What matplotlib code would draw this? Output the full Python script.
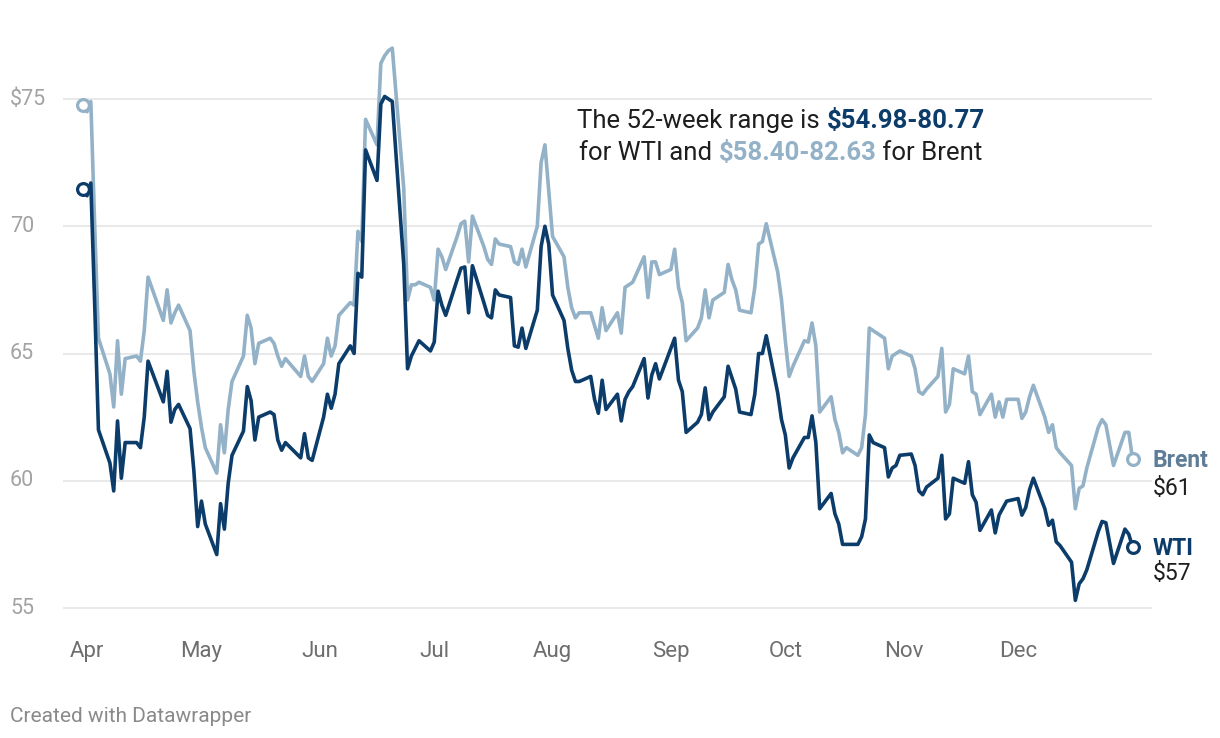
import matplotlib
matplotlib.use('Agg')
import matplotlib.pyplot as plt
import matplotlib.dates as mdates
import matplotlib.transforms as mtransforms
import pandas as pd

plt.rcParams['font.family'] = ['Roboto', 'DejaVu Sans']

# ---------------- data ----------------
brent_dates = [
    '2025-03-31', '2025-04-01', '2025-04-02', '2025-04-03', '2025-04-04', '2025-04-07', '2025-04-08',
    '2025-04-09', '2025-04-10', '2025-04-11', '2025-04-14', '2025-04-15', '2025-04-16', '2025-04-17',
    '2025-04-21', '2025-04-22', '2025-04-23', '2025-04-24', '2025-04-25', '2025-04-28', '2025-04-29',
    '2025-04-30', '2025-05-01', '2025-05-02', '2025-05-05', '2025-05-06', '2025-05-07', '2025-05-08',
    '2025-05-09', '2025-05-12', '2025-05-13', '2025-05-14', '2025-05-15', '2025-05-16', '2025-05-19',
    '2025-05-20', '2025-05-21', '2025-05-22', '2025-05-23', '2025-05-27', '2025-05-28', '2025-05-29',
    '2025-05-30', '2025-06-02', '2025-06-03', '2025-06-04', '2025-06-05', '2025-06-06', '2025-06-09',
    '2025-06-10', '2025-06-11', '2025-06-12', '2025-06-13', '2025-06-16', '2025-06-17', '2025-06-18',
    '2025-06-19', '2025-06-20', '2025-06-23', '2025-06-24', '2025-06-25', '2025-06-26', '2025-06-27',
    '2025-06-30', '2025-07-01', '2025-07-02', '2025-07-03', '2025-07-04', '2025-07-07', '2025-07-08',
    '2025-07-09', '2025-07-10', '2025-07-11', '2025-07-14', '2025-07-15', '2025-07-16', '2025-07-17',
    '2025-07-18', '2025-07-21', '2025-07-22', '2025-07-23', '2025-07-24', '2025-07-25', '2025-07-28',
    '2025-07-29', '2025-07-30', '2025-07-31', '2025-08-01', '2025-08-04', '2025-08-05', '2025-08-06',
    '2025-08-07', '2025-08-08', '2025-08-11', '2025-08-12', '2025-08-13', '2025-08-14', '2025-08-15',
    '2025-08-18', '2025-08-19', '2025-08-20', '2025-08-21', '2025-08-22', '2025-08-25', '2025-08-26',
    '2025-08-27', '2025-08-28', '2025-08-29', '2025-09-01', '2025-09-02', '2025-09-03', '2025-09-04',
    '2025-09-05', '2025-09-08', '2025-09-09', '2025-09-10', '2025-09-11', '2025-09-12', '2025-09-15',
    '2025-09-16', '2025-09-17', '2025-09-18', '2025-09-19', '2025-09-22', '2025-09-23', '2025-09-24',
    '2025-09-25', '2025-09-26', '2025-09-29', '2025-09-30', '2025-10-01', '2025-10-02', '2025-10-03',
    '2025-10-06', '2025-10-07', '2025-10-08', '2025-10-09', '2025-10-10', '2025-10-13', '2025-10-14',
    '2025-10-15', '2025-10-16', '2025-10-17', '2025-10-20', '2025-10-21', '2025-10-22', '2025-10-23',
    '2025-10-24', '2025-10-27', '2025-10-28', '2025-10-29', '2025-10-30', '2025-10-31', '2025-11-03',
    '2025-11-04', '2025-11-05', '2025-11-06', '2025-11-07', '2025-11-10', '2025-11-11', '2025-11-12',
    '2025-11-13', '2025-11-14', '2025-11-17', '2025-11-18', '2025-11-19', '2025-11-20', '2025-11-21',
    '2025-11-24', '2025-11-25', '2025-11-26', '2025-11-27', '2025-11-28', '2025-12-01', '2025-12-02',
    '2025-12-03', '2025-12-04', '2025-12-05', '2025-12-08', '2025-12-09', '2025-12-10', '2025-12-11',
    '2025-12-12', '2025-12-15', '2025-12-16', '2025-12-17', '2025-12-18', '2025-12-19', '2025-12-22',
    '2025-12-23', '2025-12-24', '2025-12-26', '2025-12-29', '2025-12-30', '2025-12-31',
]
brent_values = [
    74.75, 74.5, 74.9, 70.1, 65.6, 64.2, 62.9,
    65.5, 63.4, 64.8, 64.9, 64.7, 65.9, 68.0,
    66.3, 67.5, 66.2, 66.6, 66.9, 65.9, 64.3,
    63.1, 62.1, 61.3, 60.3, 62.2, 61.1, 62.8,
    63.9, 64.9, 66.5, 66.0, 64.6, 65.4, 65.6,
    65.4, 64.9, 64.5, 64.8, 64.1, 64.9, 64.1,
    63.9, 64.6, 65.6, 64.9, 65.3, 66.5, 67.0,
    66.9, 69.8, 69.4, 74.2, 73.2, 76.4, 76.7,
    76.9, 77.0, 71.5, 67.1, 67.7, 67.7, 67.8,
    67.6, 67.1, 69.1, 68.8, 68.3, 69.6, 70.1,
    70.2, 68.6, 70.4, 69.2, 68.7, 68.5, 69.5,
    69.3, 69.2, 68.6, 68.5, 69.1, 68.4, 70.0,
    72.5, 73.2, 71.4, 69.6, 68.8, 67.6, 66.8,
    66.4, 66.6, 66.6, 66.1, 65.6, 66.8, 65.9,
    66.6, 65.8, 67.6, 67.7, 67.8, 68.8, 67.2,
    68.6, 68.6, 68.1, 68.3, 69.1, 67.6, 67.0,
    65.5, 66.0, 66.4, 67.5, 66.4, 67.1, 67.4,
    68.5, 67.9, 67.5, 66.7, 66.6, 67.6, 69.3,
    69.4, 70.1, 68.2, 67.1, 65.5, 64.1, 64.5,
    65.5, 65.45, 66.2, 65.3, 62.7, 63.3, 62.4,
    61.9, 61.1, 61.3, 61.0, 61.3, 62.6, 66.0,
    65.9, 65.6, 64.4, 64.9, 65.0, 65.1, 64.9,
    64.4, 63.5, 63.4, 63.6, 64.1, 65.2, 62.7,
    63.0, 64.4, 64.2, 64.9, 63.5, 63.4, 62.6,
    63.4, 62.5, 63.1, 62.5, 63.2, 63.2, 62.45,
    62.7, 63.3, 63.75, 62.5, 61.9, 62.2, 61.3,
    61.1, 60.6, 58.9, 59.7, 59.8, 60.5, 62.1,
    62.4, 62.2, 60.6, 61.9, 61.9, 60.85,
]

wti_dates = [
    '2025-03-31', '2025-04-01', '2025-04-02', '2025-04-03', '2025-04-04', '2025-04-07', '2025-04-08',
    '2025-04-09', '2025-04-10', '2025-04-11', '2025-04-14', '2025-04-15', '2025-04-16', '2025-04-17',
    '2025-04-21', '2025-04-22', '2025-04-23', '2025-04-24', '2025-04-25', '2025-04-28', '2025-04-29',
    '2025-04-30', '2025-05-01', '2025-05-02', '2025-05-05', '2025-05-06', '2025-05-07', '2025-05-08',
    '2025-05-09', '2025-05-12', '2025-05-13', '2025-05-14', '2025-05-15', '2025-05-16', '2025-05-19',
    '2025-05-20', '2025-05-21', '2025-05-22', '2025-05-23', '2025-05-27', '2025-05-28', '2025-05-29',
    '2025-05-30', '2025-06-02', '2025-06-03', '2025-06-04', '2025-06-05', '2025-06-06', '2025-06-09',
    '2025-06-10', '2025-06-11', '2025-06-12', '2025-06-13', '2025-06-16', '2025-06-17', '2025-06-18',
    '2025-06-20', '2025-06-23', '2025-06-24', '2025-06-25', '2025-06-26', '2025-06-27', '2025-06-30',
    '2025-07-01', '2025-07-02', '2025-07-03', '2025-07-04', '2025-07-07', '2025-07-08', '2025-07-09',
    '2025-07-10', '2025-07-11', '2025-07-14', '2025-07-15', '2025-07-16', '2025-07-17', '2025-07-18',
    '2025-07-21', '2025-07-22', '2025-07-23', '2025-07-24', '2025-07-25', '2025-07-28', '2025-07-29',
    '2025-07-30', '2025-07-31', '2025-08-01', '2025-08-04', '2025-08-05', '2025-08-06', '2025-08-07',
    '2025-08-08', '2025-08-11', '2025-08-12', '2025-08-13', '2025-08-14', '2025-08-15', '2025-08-18',
    '2025-08-19', '2025-08-20', '2025-08-21', '2025-08-22', '2025-08-25', '2025-08-26', '2025-08-27',
    '2025-08-28', '2025-08-29', '2025-09-02', '2025-09-03', '2025-09-04', '2025-09-05', '2025-09-08',
    '2025-09-09', '2025-09-10', '2025-09-11', '2025-09-12', '2025-09-15', '2025-09-16', '2025-09-17',
    '2025-09-18', '2025-09-19', '2025-09-22', '2025-09-23', '2025-09-24', '2025-09-25', '2025-09-26',
    '2025-09-29', '2025-09-30', '2025-10-01', '2025-10-02', '2025-10-03', '2025-10-06', '2025-10-07',
    '2025-10-08', '2025-10-09', '2025-10-10', '2025-10-13', '2025-10-14', '2025-10-15', '2025-10-16',
    '2025-10-17', '2025-10-20', '2025-10-21', '2025-10-22', '2025-10-23', '2025-10-24', '2025-10-27',
    '2025-10-28', '2025-10-29', '2025-10-30', '2025-10-31', '2025-11-03', '2025-11-04', '2025-11-05',
    '2025-11-06', '2025-11-07', '2025-11-10', '2025-11-11', '2025-11-12', '2025-11-13', '2025-11-14',
    '2025-11-17', '2025-11-18', '2025-11-19', '2025-11-20', '2025-11-21', '2025-11-24', '2025-11-25',
    '2025-11-26', '2025-11-28', '2025-12-01', '2025-12-02', '2025-12-03', '2025-12-04', '2025-12-05',
    '2025-12-08', '2025-12-09', '2025-12-10', '2025-12-11', '2025-12-12', '2025-12-15', '2025-12-16',
    '2025-12-17', '2025-12-18', '2025-12-19', '2025-12-22', '2025-12-23', '2025-12-24', '2025-12-26',
    '2025-12-29', '2025-12-30', '2025-12-31',
]
wti_values = [
    71.47, 71.2, 71.7, 67.0, 62.0, 60.7, 59.6,
    62.35, 60.1, 61.5, 61.5, 61.3, 62.5, 64.7,
    63.1, 64.3, 62.3, 62.8, 63.0, 62.05, 60.4,
    58.2, 59.2, 58.3, 57.1, 59.1, 58.1, 59.9,
    61.0, 61.95, 63.7, 63.15, 61.6, 62.5, 62.7,
    62.6, 61.6, 61.2, 61.5, 60.9, 61.85, 60.9,
    60.8, 62.5, 63.4, 62.85, 63.4, 64.6, 65.3,
    65.0, 68.15, 68.0, 73.0, 71.8, 74.8, 75.1,
    74.9, 68.5, 64.4, 64.9, 65.2, 65.5, 65.1,
    65.45, 67.45, 66.9, 66.5, 67.9, 68.35, 68.4,
    66.6, 68.45, 67.0, 66.5, 66.4, 67.5, 67.3,
    67.2, 65.3, 65.25, 66.0, 65.2, 66.7, 69.2,
    70.0, 69.3, 67.3, 66.3, 65.2, 64.35, 63.9,
    63.9, 64.1, 63.2, 62.65, 63.95, 62.8, 63.4,
    62.35, 63.2, 63.5, 63.7, 64.8, 63.25, 64.15,
    64.6, 64.0, 65.6, 63.95, 63.5, 61.9, 62.3,
    62.6, 63.65, 62.4, 62.7, 63.3, 64.5, 64.05,
    63.6, 62.7, 62.6, 63.4, 65.0, 65.0, 65.7,
    63.45, 62.4, 61.8, 60.5, 60.9, 61.7, 61.7,
    62.55, 61.5, 58.9, 59.5, 58.7, 58.3, 57.5,
    57.5, 57.5, 57.8, 58.5, 61.8, 61.5, 61.3,
    60.15, 60.5, 60.6, 61.0, 61.05, 60.6, 59.6,
    59.45, 59.75, 60.1, 61.0, 58.5, 58.7, 60.1,
    59.9, 60.75, 59.45, 59.15, 58.05, 58.85, 57.95,
    58.65, 59.2, 59.3, 58.65, 58.95, 59.65, 60.1,
    58.9, 58.25, 58.45, 57.6, 57.45, 56.8, 55.3,
    55.95, 56.15, 56.5, 58.0, 58.4, 58.35, 56.75,
    58.1, 57.9, 57.4,
]

month_starts = ['2025-04-01', '2025-05-01', '2025-06-01', '2025-07-01', '2025-08-01',
                '2025-09-01', '2025-10-01', '2025-11-01', '2025-12-01']
month_labels = ['Apr', 'May', 'Jun', 'Jul', 'Aug', 'Sep', 'Oct', 'Nov', 'Dec']
y_ticks = [55, 60, 65, 70, 75]
y_tick_labels = ['55', '60', '65', '70', '$75']
series_names = ['Brent', 'WTI']

# ---------------- style ----------------
WTI_COLOR = '#0b3c6a'
BRENT_COLOR = '#93b1c7'
BRENT_LABEL_COLOR = '#5f7d96'
TEXT_COLOR = '#1e1e1e'
GRID_COLOR = '#e3e3e3'

W, H = 1220, 738
fig = plt.figure(figsize=(W / 100, H / 100), dpi=100)
fig.patch.set_facecolor('white')

# layout in pixels
ax_l, ax_r, ax_t, ax_b = 63, 1152, 30, 640
ax = fig.add_axes([ax_l / W, 1 - ax_b / H, (ax_r - ax_l) / W, (ax_b - ax_t) / H])

px_per_day = 3.816
apr1_px = 87
apr1 = mdates.date2num(pd.Timestamp('2025-04-01'))
ax.set_xlim(apr1 - (apr1_px - ax_l) / px_per_day, apr1 + (ax_r - apr1_px) / px_per_day)
px_per_unit = 25.45
y55_px = 608
ax.set_ylim(55 - (ax_b - y55_px) / px_per_unit, 55 + (y55_px - ax_t) / px_per_unit)

for s in ax.spines.values():
    s.set_visible(False)
ax.set_xticks([])
ax.set_yticks([])

for v in y_ticks:
    ax.axhline(v, color=GRID_COLOR, lw=1.1, zorder=1)

ylab_tr = mtransforms.blended_transform_factory(fig.transFigure, ax.transData)
for v, lab in zip(y_ticks, y_tick_labels):
    ax.text(10 / W, v, lab, transform=ylab_tr, ha='left', va='center',
            fontsize=15.5, color='#a3a3a3')

xlab_tr = mtransforms.blended_transform_factory(ax.transData, fig.transFigure)
for d, lab in zip(month_starts, month_labels):
    ax.text(mdates.date2num(pd.Timestamp(d)), 1 - 657 / H, lab, transform=xlab_tr,
            ha='center', va='baseline', fontsize=16, color='#6e6e6e', clip_on=False)

bd = pd.to_datetime(brent_dates)
wd = pd.to_datetime(wti_dates)

ax.plot(bd, brent_values, color=BRENT_COLOR, lw=2.6, solid_joinstyle='round',
        solid_capstyle='round', zorder=3)
ax.plot(wd, wti_values, color=WTI_COLOR, lw=2.6, solid_joinstyle='round',
        solid_capstyle='round', zorder=4)

for dates, vals, col in [(bd, brent_values, BRENT_COLOR), (wd, wti_values, WTI_COLOR)]:
    ax.plot([dates[0], dates[-1]], [vals[0], vals[-1]], 'o', ms=8.5, mfc='white',
            mec=col, mew=2.3, zorder=5, clip_on=False)

# end labels
for name, dates, vals, col, dy2 in [('Brent', bd, brent_values, BRENT_LABEL_COLOR, -26),
                                    ('WTI', wd, wti_values, WTI_COLOR, -24)]:
    ax.annotate(name, xy=(dates[-1], vals[-1]), xytext=(14.5, -6), textcoords='offset points',
                ha='left', va='baseline', fontsize=16.5, fontweight='bold', color=col,
                annotation_clip=False)
    ax.annotate(f'${round(vals[-1])}', xy=(dates[-1], vals[-1]), xytext=(14.5, dy2),
                textcoords='offset points', ha='left', va='baseline', fontsize=16.5,
                color=TEXT_COLOR, annotation_clip=False)

# annotation with mixed colours
renderer = fig.canvas.get_renderer()


def rich_line(pieces, cx_px, baseline_px, size):
    texts = []
    for s, color, weight in pieces:
        t = fig.text(0, 1 - baseline_px / H, s, color=color, fontsize=size,
                     fontweight=weight, va='baseline', ha='left')
        texts.append(t)
    widths = [t.get_window_extent(renderer).width for t in texts]
    x = cx_px - sum(widths) / 2
    for t, w in zip(texts, widths):
        t.set_x(x / W)
        x += w


rich_line([('The 52-week range is ', TEXT_COLOR, 'normal'),
           ('$54.98-80.77', WTI_COLOR, 'bold')], 781, 128, 18.5)
rich_line([('for WTI and ', TEXT_COLOR, 'normal'),
           ('$58.40-82.63', BRENT_COLOR, 'bold'),
           (' for Brent', TEXT_COLOR, 'normal')], 781, 160, 18.5)

fig.text(10 / W, 1 - 722 / H, 'Created with Datawrapper', ha='left', va='baseline',
         fontsize=15, color='#8a8a8a')

fig.savefig('out.png', dpi=100, facecolor='white')
